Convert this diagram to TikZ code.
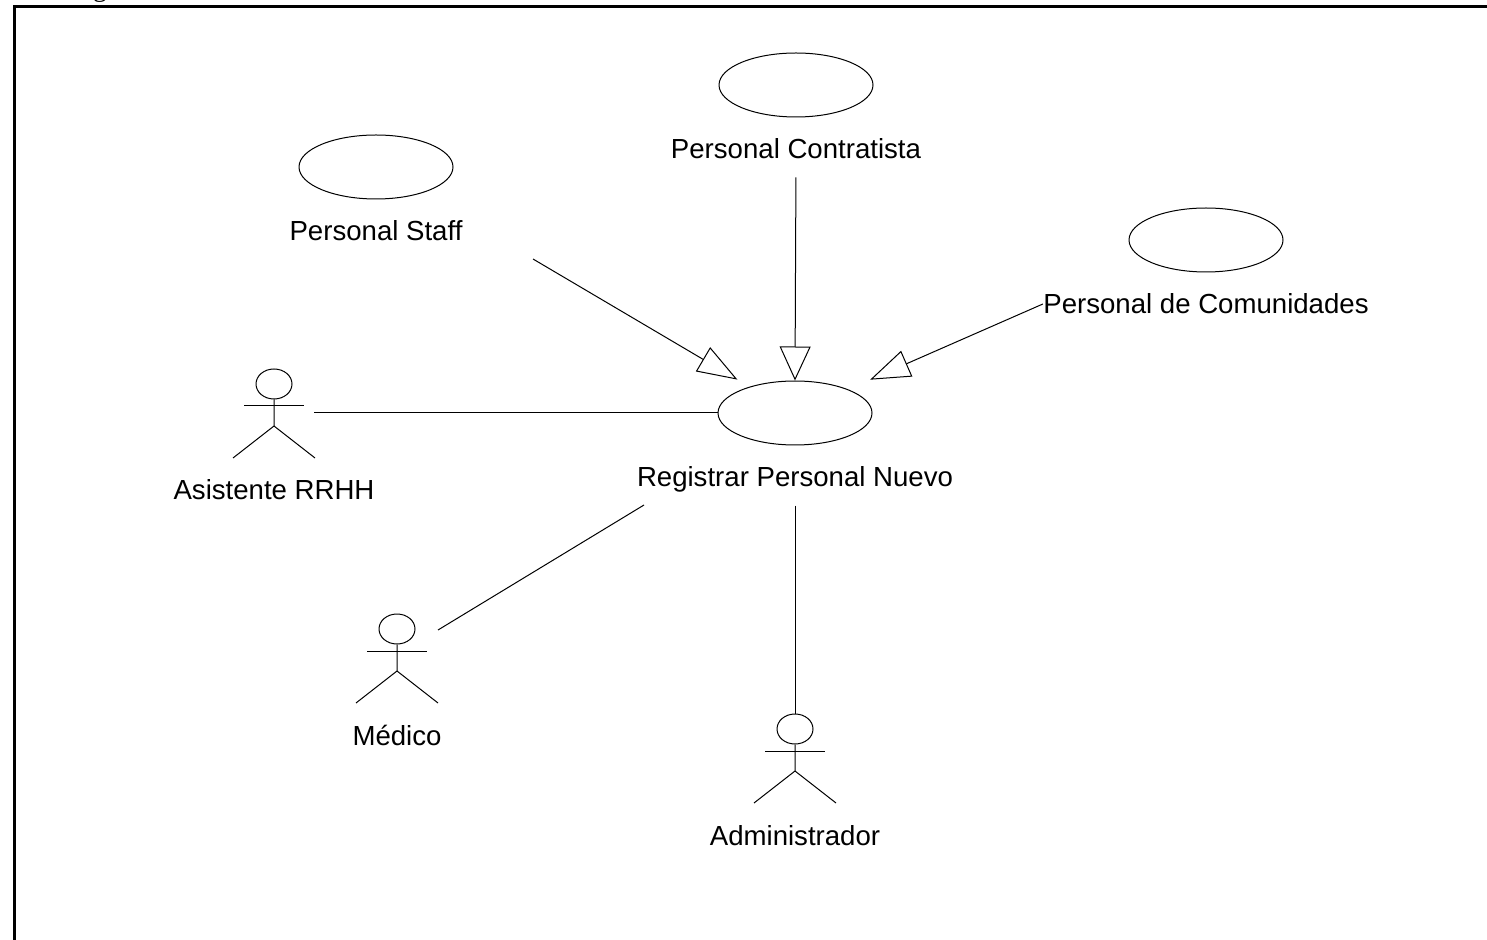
\documentclass[tikz,border=0pt]{standalone}
\usepackage{fontspec}
\setmainfont{Liberation Sans}
\newfontfamily\titlefont{Liberation Serif}
\usetikzlibrary{arrows.meta,shapes.geometric}

\tikzset{
  usecase/.style={ellipse,draw,minimum width=77pt,minimum height=32pt,inner sep=0pt},
  label/.style={font=\fontsize{13.8}{16}\selectfont,inner sep=0pt,text height=10pt,text depth=0pt},
  head/.style={ellipse,draw,minimum width=18pt,minimum height=15pt,inner sep=0pt},
  gen/.style={-{Triangle[open,length=17pt,width=15.5pt]}},
  gens/.style={-{Triangle[open,length=20pt,width=14pt]}},
  pics/actor/.style={code={
    \node[head] (-head) at (0,0) {};
    \node[label,node distance=53pt] (-name) [below of=-head] {#1};
    \draw (-head) -- (0,42) -- (-41,74);
    \draw (0,42) -- (41,74);
    \draw (-30,22) -- (30,22);
  }}
}

\begin{document}
\begin{tikzpicture}[x=0.5pt,y=-0.5pt,line width=0.5pt,node distance=32pt]
  \useasboundingbox (0,0) rectangle (1487,940);

  \node[font=\fontsize{13.8}{16}\selectfont\titlefont,anchor=base,inner sep=0pt] (title) at (100,-3) {g};

  % frame
  \draw[line width=1.5pt] (14,940) |- (1487,7);

  \node[usecase]       (contra)   at (796,85)   {};
  \node[label]         (contraL)  [below of=contra] {Personal Contratista};
  \node[usecase]       (staff)    at (376,167)  {};
  \node[label]         (staffL)   [below of=staff]  {Personal Staff};
  \node[usecase]       (comun)    at (1206,240) {};
  \node[label]         (comunL)   [below of=comun]  {Personal de Comunidades};
  \node[usecase]       (reg)      at (795,413)  {};
  \node[label]         (regL)     [below of=reg]    {Registrar Personal Nuevo};

  \pic (asist) at (274,384) {actor={Asistente RRHH}};
  \pic (medico) at (397,629) {actor={Médico}};
  \pic (admin) at (795,729) {actor={Administrador}};

  \coordinate (staffE)  at (533,259);
  \coordinate (regSW)   at (644,505);
  \coordinate (asistE)  at (314,413);
  \coordinate (medicoE) at (438,630);

  \draw[gens,shorten >=7pt]   (staffE) -- (reg.150);
  \draw[gen,shorten <=9pt]    (contraL.south) -- (reg.north);
  \draw[gens,shorten >=12pt]  (comunL.west) -- (reg.24);
  \draw (asistE) -- (reg.west);
  \draw (medicoE) -- (regSW);
  \draw[shorten <=9pt] (regL.south) -- (admin-head.north);
\end{tikzpicture}
\end{document}
